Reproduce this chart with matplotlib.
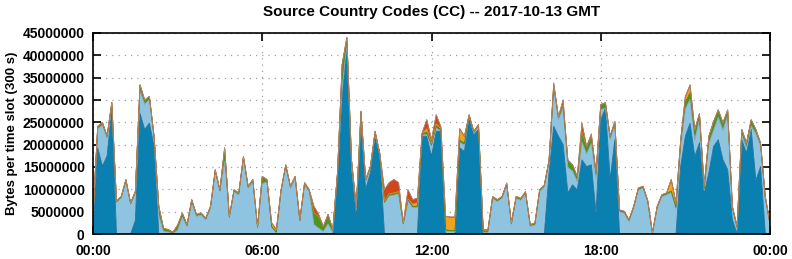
import numpy as np
import matplotlib
matplotlib.use("Agg")
import matplotlib.pyplot as plt
from matplotlib.ticker import FixedLocator, FuncFormatter

# ---- data (millions of bytes per 300 s slot, sampled every 10 minutes) ----
hours = np.arange(145) / 6.0

total = [4.5, 24.1, 25.0, 22.0, 29.5, 7.4, 8.4, 12.2, 7.0, 9.5,
         33.4, 30.0, 30.8, 21.9, 6.2, 1.3, 1.0, 0.4, 2.0, 4.7,
         2.1, 7.7, 4.4, 4.7, 3.6, 6.2, 14.4, 9.9, 19.3, 4.0,
         9.9, 9.2, 17.4, 10.7, 12.2, 1.7, 12.9, 12.2, 2.5, 1.0,
         9.9, 15.5, 10.7, 12.9, 3.2, 11.5, 9.9, 6.2, 4.4, 1.7,
         4.4, 1.0, 13.7, 38.0, 44.0, 16.5, 6.0, 27.5, 12.2, 15.1,
         23.0, 18.1, 9.9, 11.5, 12.2, 11.5, 2.5, 9.9, 7.7, 8.0,
         22.6, 25.6, 21.1, 26.7, 24.0, 4.0, 3.8, 3.8, 23.6, 21.9,
         26.7, 23.0, 24.5, 1.0, 1.0, 8.4, 7.7, 8.4, 11.4, 2.5,
         8.4, 8.0, 9.5, 2.1, 2.5, 9.9, 11.0, 16.6, 33.8, 26.3,
         30.0, 16.6, 15.5, 12.9, 24.8, 19.6, 22.4, 13.7, 29.0, 29.3,
         21.9, 25.2, 5.4, 5.1, 3.2, 6.2, 10.3, 10.7, 7.5, 0.3,
         6.2, 8.8, 9.2, 12.2, 7.0, 21.1, 30.8, 33.4, 23.4, 27.0,
         11.0, 21.9, 25.2, 27.8, 24.9, 27.8, 6.2, 1.7, 23.4, 20.4,
         25.6, 23.4, 20.4, 8.4, 2.5]

dark = [0, 19.3, 15.2, 17.5, 28.0, 0, 0, 0, 0, 3.0,
        27.0, 23.4, 24.8, 19.6, 0, 0, 0, 0, 0, 0,
        0, 0, 0, 0, 0, 0, 0, 0, 0, 0,
        0, 0, 0, 0, 0, 0, 0, 0, 0, 0,
        0, 0, 0, 0, 0, 0, 0, 0, 0, 0,
        0, 0, 12.9, 31.0, 42.0, 14.5, 4.0, 25.2, 10.0, 13.7,
        21.5, 17.4, 0, 0, 0, 0, 0, 0, 0, 0,
        21.9, 21.9, 17.4, 23.0, 23.0, 0, 0, 0, 19.3, 18.5,
        26.0, 22.2, 23.4, 0, 0, 0, 0, 0, 0, 0,
        0, 0, 0, 0, 0, 0, 0, 13.6, 24.1, 21.9,
        20.0, 9.2, 11.0, 9.9, 16.6, 15.1, 15.5, 4.7, 25.6, 28.2,
        12.2, 21.1, 0, 0, 0, 0, 0, 0, 0, 0,
        0, 0, 0, 0, 0, 15.1, 21.9, 24.8, 17.4, 20.4,
        9.2, 13.7, 19.6, 21.1, 16.6, 14.4, 3.2, 0, 21.1, 18.1,
        23.4, 12.0, 15.1, 0.2, 0]

green = [0.3, 0.4, 0.5, 0.4, 0.6, 0.2, 0.2, 0.3, 0.2, 0.2,
         1.2, 0.8, 0.6, 0.5, 2.0, 0.6, 0.4, 0.2, 1.0, 0.8,
         0.3, 0.5, 0.3, 0.3, 0.3, 0.2, 0.4, 0.3, 3.0, 0.3,
         0.3, 0.3, 0.5, 0.3, 0.3, 0.2, 1.5, 0.4, 0.2, 0.2,
         0.3, 0.3, 0.3, 0.3, 0.2, 0.4, 0.3, 2.5, 2.5, 1.0,
         2.0, 0.5, 0.5, 5.0, 1.5, 1.5, 0.5, 1.8, 0.4, 0.3,
         0.3, 0.3, 0.3, 0.3, 0.3, 0.3, 0.2, 0.3, 0.3, 0.3,
         0.3, 0.5, 0.4, 0.5, 0.3, 0.3, 0.2, 0.2, 0.5, 0.4,
         0.3, 0.3, 0.3, 0.3, 0.3, 0.3, 0.3, 0.3, 0.3, 0.2,
         0.3, 0.3, 0.3, 0.2, 0.4, 0.3, 0.3, 0.4, 0.5, 0.5,
         0.6, 1.5, 1.2, 1.0, 2.0, 1.5, 1.5, 1.0, 1.0, 1.0,
         0.6, 0.6, 0.3, 0.3, 0.2, 0.3, 0.3, 0.3, 0.2, 0.1,
         0.2, 0.3, 0.3, 0.3, 0.3, 1.0, 1.5, 1.5, 1.5, 1.0,
         0.5, 1.5, 1.8, 1.5, 1.5, 1.0, 0.5, 0.4, 1.0, 1.0,
         1.2, 0.8, 0.5, 0.6, 0.5]

orange = [0.3, 0.1, 0.1, 0.1, 0.1, 0.1, 0.1, 0.1, 0.1, 0.1,
          0.1, 0.1, 0.1, 0.1, 0.1, 0.1, 0.1, 0.1, 0.1, 0.1,
          0.1, 0.1, 0.1, 0.1, 0.1, 0.1, 0.1, 0.1, 0.1, 0.1,
          0.1, 0.1, 0.1, 0.1, 0.1, 0.1, 0.1, 0.1, 0.8, 0.5,
          0.1, 0.1, 0.1, 0.1, 0.1, 0.1, 0.1, 0.1, 0.1, 0.1,
          0.1, 0.1, 0.1, 0.1, 0.1, 0.1, 0.1, 0.1, 0.1, 0.1,
          0.1, 0.1, 0.2, 0.2, 0.2, 0.2, 0.1, 0.2, 0.5, 0.8,
          0.1, 0.8, 0.3, 0.5, 0.2, 3.0, 3.0, 3.0, 2.5, 1.5,
          0.1, 0.1, 0.1, 0.3, 0.3, 0.1, 0.1, 0.1, 0.1, 0.1,
          0.1, 0.1, 0.1, 0.1, 0.1, 0.1, 0.1, 0.1, 0.1, 0.1,
          0.2, 0.1, 0.1, 0.1, 0.2, 0.1, 0.1, 0.1, 0.1, 0.1,
          0.1, 0.1, 0.1, 0.1, 0.1, 0.1, 0.1, 0.1, 0.1, 0.1,
          0.1, 0.1, 0.1, 2.5, 1.0, 0.3, 1.2, 1.5, 0.8, 0.2,
          0.3, 0.1, 0.1, 0.1, 0.1, 0.1, 0.1, 0.1, 0.1, 0.1,
          0.1, 0.1, 0.1, 0.1, 0.1]

red = [0.05, 0.05, 0.05, 0.05, 0.05, 0.05, 0.05, 0.05, 0.05, 0.05,
       0.05, 0.05, 0.05, 0.05, 0.05, 0.05, 0.05, 0.05, 0.05, 0.05,
       0.05, 0.05, 0.05, 0.05, 0.05, 0.05, 0.05, 0.05, 0.05, 0.05,
       0.05, 0.05, 0.05, 0.05, 0.05, 0.05, 0.05, 0.05, 0.05, 0.05,
       0.05, 0.05, 0.05, 0.05, 0.05, 0.05, 0.05, 1.5, 0.5, 0.05,
       0.05, 0.05, 0.05, 0.05, 0.05, 0.05, 0.05, 0.05, 0.05, 0.05,
       0.05, 0.05, 2.5, 2.5, 3.0, 2.0, 0.05, 2.0, 1.0, 1.0,
       0.1, 2.0, 0.8, 2.0, 0.4, 0.05, 0.05, 0.05, 0.1, 0.1,
       0.1, 0.05, 0.05, 0.05, 0.05, 0.05, 0.05, 0.05, 0.05, 0.05,
       0.05, 0.05, 0.05, 0.05, 0.05, 0.05, 0.05, 0.1, 0.5, 0.1,
       1.0, 0.1, 0.1, 0.1, 2.0, 0.1, 0.5, 0.1, 0.1, 0.1,
       0.1, 0.1, 0.05, 0.05, 0.05, 0.05, 0.05, 0.05, 0.05, 0.05,
       0.05, 0.05, 0.05, 0.1, 0.05, 0.1, 0.1, 0.3, 0.1, 0.1,
       0.5, 0.1, 0.1, 0.1, 0.1, 0.1, 0.05, 0.05, 0.1, 0.1,
       0.1, 0.1, 0.1, 0.05, 0.05]

y_ticks = [0, 5e6, 10e6, 15e6, 20e6, 25e6, 30e6, 35e6, 40e6, 45e6]
x_ticks = [0, 6, 12, 18, 24]
x_labels = ["00:00", "06:00", "12:00", "18:00", "00:00"]

# ---- derive layers ----
T = np.array(total) * 1e6
D = np.array(dark) * 1e6
G = np.array(green) * 1e6
O = np.array(orange) * 1e6
R = np.array(red) * 1e6
L = np.clip(T - D - G - O - R, 0, None)

layers = [(D, "#0a80b0", "#1f6e98"),
          (L, "#8fc4e1", "#88a9bd"),
          (G, "#4b961e", "#447f1c"),
          (O, "#f2a31c", "#d08a1a"),
          (R, "#d2461a", "#b33c16")]

plt.rcParams['font.family'] = ['Liberation Sans', 'DejaVu Sans']
fig = plt.figure(figsize=(7.92, 2.59), dpi=100)
ax = fig.add_axes([93 / 792, 1 - 234 / 259, 677 / 792, 201 / 259])

base = np.zeros_like(T)
for vals, fc, ec in layers:
    top = base + vals
    ax.fill_between(hours, base, top, facecolor=fc, edgecolor="none",
                    linewidth=0, zorder=2)
    ax.plot(hours, top, color=ec, linewidth=0.6, zorder=3)
    base = top
ax.plot(hours, base, color="#a39a86", linewidth=0.5, zorder=4)

ax.set_xlim(0, 24)
ax.set_ylim(0, 45e6)
ax.xaxis.set_major_locator(FixedLocator(x_ticks))
ax.set_xticklabels(x_labels)
ax.yaxis.set_major_locator(FixedLocator(y_ticks))
ax.yaxis.set_major_formatter(FuncFormatter(lambda v, p: "%d" % int(round(v))))

ax.tick_params(axis="both", direction="in", length=6, width=1.2,
               labelsize=10, top=True, right=True, color="black")
ax.tick_params(axis="y", pad=6)
ax.tick_params(axis="x", pad=7)
for lab in ax.get_xticklabels() + ax.get_yticklabels():
    lab.set_fontweight("bold")

ax.grid(True, color="#a0a0a0", linestyle=(0, (1, 4)), linewidth=0.9)
ax.set_axisbelow(True)
for sp in ax.spines.values():
    sp.set_linewidth(1.2)
    sp.set_zorder(5)

fig.text(432 / 792, 1 - 12 / 259, "Source Country Codes (CC) -- 2017-10-13 GMT",
         ha="center", va="center", fontsize=11, fontweight="bold")
fig.text(12 / 792, 1 - 133 / 259, "Bytes per time slot (300 s)",
         ha="center", va="center", rotation=90, fontsize=9.5, fontweight="bold")

fig.savefig("out.png", dpi=100)
